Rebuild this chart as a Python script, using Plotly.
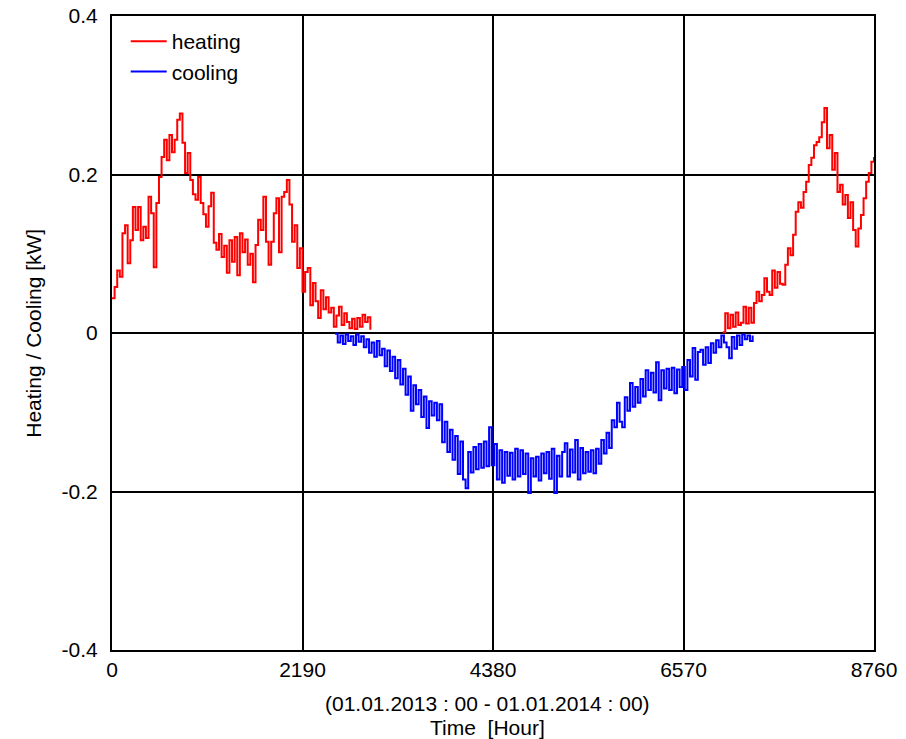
import plotly.graph_objects as go

# Hourly heating / cooling demand over one year (kW), sampled every 30 hours
heat_winter_hours = list(range(0, 2971, 30))
heat_winter_kw = [
    0.044, 0.058, 0.079, 0.071, 0.126, 0.136, 0.088, 0.117, 0.159, 0.130,
    0.159, 0.117, 0.134, 0.120, 0.172, 0.151, 0.083, 0.164, 0.197, 0.222,
    0.244, 0.218, 0.250, 0.228, 0.244, 0.269, 0.277, 0.240, 0.202, 0.227,
    0.193, 0.175, 0.168, 0.197, 0.164, 0.150, 0.134, 0.160, 0.177, 0.114,
    0.105, 0.125, 0.096, 0.110, 0.076, 0.117, 0.090, 0.121, 0.073, 0.126,
    0.102, 0.118, 0.086, 0.100, 0.064, 0.111, 0.143, 0.130, 0.172, 0.115,
    0.086, 0.115, 0.151, 0.170, 0.102, 0.172, 0.178, 0.193, 0.162, 0.115,
    0.136, 0.082, 0.107, 0.052, 0.077, 0.082, 0.035, 0.063, 0.040, 0.019,
    0.054, 0.030, 0.045, 0.026, 0.032, 0.008, 0.022, 0.033, 0.010, 0.025,
    0.014, 0.006, 0.018, 0.005, 0.019, 0.008, 0.023, 0.014, 0.020, 0.004,
]

cool_hours = list(range(2565, 7366, 30))
cool_kw = [
    -0.001, -0.012, -0.003, -0.014, -0.002, -0.010, -0.004, -0.015, -0.002, -0.011,
    -0.004, -0.018, -0.008, -0.025, -0.012, -0.030, -0.010, -0.028, -0.020, -0.042,
    -0.022, -0.048, -0.030, -0.057, -0.034, -0.065, -0.045, -0.078, -0.055, -0.098,
    -0.066, -0.090, -0.072, -0.106, -0.080, -0.120, -0.086, -0.104, -0.088, -0.110,
    -0.090, -0.138, -0.112, -0.150, -0.122, -0.160, -0.130, -0.178, -0.137, -0.185,
    -0.196, -0.150, -0.176, -0.144, -0.172, -0.140, -0.170, -0.137, -0.168, -0.119,
    -0.167, -0.140, -0.185, -0.148, -0.189, -0.150, -0.180, -0.151, -0.185, -0.146,
    -0.181, -0.148, -0.178, -0.152, -0.202, -0.158, -0.181, -0.156, -0.186, -0.152,
    -0.177, -0.150, -0.184, -0.146, -0.202, -0.155, -0.181, -0.150, -0.139, -0.181,
    -0.147, -0.176, -0.135, -0.185, -0.145, -0.177, -0.150, -0.175, -0.148, -0.177,
    -0.146, -0.165, -0.135, -0.152, -0.126, -0.145, -0.110, -0.119, -0.088, -0.112,
    -0.119, -0.081, -0.098, -0.063, -0.093, -0.068, -0.088, -0.058, -0.080, -0.047,
    -0.072, -0.050, -0.075, -0.037, -0.085, -0.047, -0.070, -0.045, -0.072, -0.044,
    -0.076, -0.046, -0.068, -0.043, -0.072, -0.034, -0.055, -0.019, -0.059, -0.024,
    -0.021, -0.040, -0.018, -0.038, -0.013, -0.025, -0.009, -0.018, -0.003, -0.012,
    -0.018, -0.032, -0.005, -0.020, -0.003, -0.015, -0.002, -0.008, -0.003, -0.010,
    -0.003,
]

heat_autumn_hours = list(range(7020, 8761, 30))
heat_autumn_kw = [
    0.001, 0.025, 0.006, 0.023, 0.008, 0.026, 0.010, 0.013, 0.033, 0.012,
    0.032, 0.013, 0.038, 0.052, 0.040, 0.048, 0.069, 0.052, 0.048, 0.079,
    0.057, 0.077, 0.062, 0.061, 0.086, 0.107, 0.098, 0.124, 0.153, 0.165,
    0.158, 0.178, 0.191, 0.212, 0.221, 0.237, 0.241, 0.247, 0.266, 0.284,
    0.233, 0.250, 0.206, 0.227, 0.178, 0.187, 0.162, 0.174, 0.145, 0.165,
    0.130, 0.109, 0.132, 0.149, 0.170, 0.191, 0.202, 0.216, 0.222,
]

x_ticks = [0, 2190, 4380, 6570, 8760]
y_ticks = [-0.4, -0.2, 0, 0.2, 0.4]
y_tick_text = ["-0.4", "-0.2", "0", "0.2", "0.4"]

RED = "#ff0000"
BLUE = "#0000ff"
FONT = "Liberation Sans, Arial, sans-serif"
FS = 21

fig = go.Figure()
fig.add_trace(go.Scatter(x=heat_winter_hours, y=heat_winter_kw, mode="lines", name="heating",
                         line=dict(color=RED, width=2, shape="hv"), legendgroup="h"))
fig.add_trace(go.Scatter(x=cool_hours, y=cool_kw, mode="lines", name="cooling",
                         line=dict(color=BLUE, width=2, shape="hv"), legendgroup="c"))
fig.add_trace(go.Scatter(x=heat_autumn_hours, y=heat_autumn_kw, mode="lines", name="heating",
                         line=dict(color=RED, width=2, shape="hv"), legendgroup="h",
                         showlegend=False))

axis_common = dict(showline=True, linecolor="black", linewidth=2, mirror=True,
                   showgrid=True, gridcolor="black", gridwidth=1.6, zeroline=False,
                   ticks="", automargin=False,
                   tickfont=dict(family=FONT, size=FS, color="black"))

fig.update_xaxes(range=[0, 8760], tickvals=x_ticks, ticklabelstandoff=0, **axis_common)
fig.update_yaxes(range=[-0.4, 0.4], tickvals=y_ticks, ticktext=y_tick_text,
                 ticklabelstandoff=8, **axis_common)

fig.add_annotation(text="(01.01.2013 : 00 - 01.01.2014 : 00)", xref="paper", yref="paper",
                   x=0.493, y=0, yshift=-53, showarrow=False, yanchor="middle",
                   font=dict(family=FONT, size=FS, color="black"))
fig.add_annotation(text="Time  [Hour]", xref="paper", yref="paper",
                   x=0.493, y=0, yshift=-77, showarrow=False, yanchor="middle",
                   font=dict(family=FONT, size=FS, color="black"))
fig.add_annotation(text="Heating / Cooling [kW]", xref="paper", yref="paper",
                   x=-0.104, y=0.5, textangle=-90, showarrow=False, xanchor="center",
                   yanchor="middle", font=dict(family=FONT, size=FS, color="black"))

fig.update_layout(
    width=906, height=739,
    margin=dict(l=112, r=32, t=16, b=89),
    paper_bgcolor="white", plot_bgcolor="white",
    legend=dict(x=0.018, y=0.992, xanchor="left", yanchor="top",
                bgcolor="rgba(0,0,0,0)", font=dict(family=FONT, size=FS, color="black"),
                itemwidth=36, tracegroupgap=0),
)

fig.write_html("out.html")
